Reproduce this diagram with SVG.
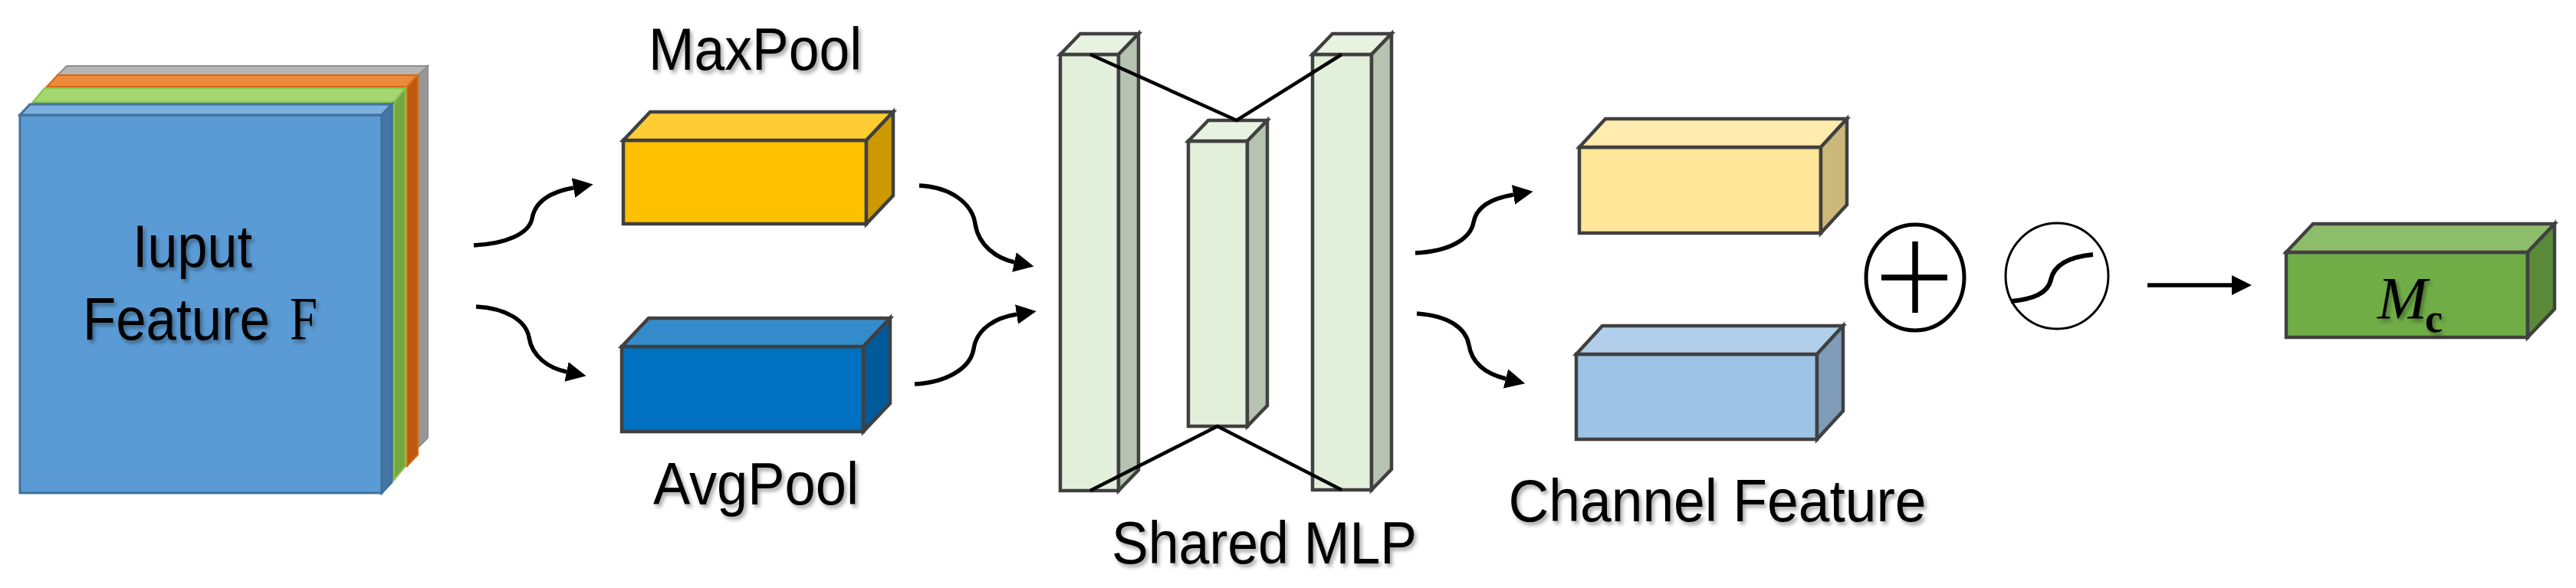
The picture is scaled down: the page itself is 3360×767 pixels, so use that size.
<svg xmlns="http://www.w3.org/2000/svg" width="3360" height="767" viewBox="0 0 3360 767">
<defs>
<style>
.lbl{font-family:"Liberation Sans",Arial,sans-serif;font-size:78px;fill:#000;filter:url(#sh)}
.bx{stroke:#404040;stroke-width:4.5;stroke-linejoin:miter}
.conn{fill:none;stroke:#000;stroke-width:5.5}
.mlpl{fill:none;stroke:#000;stroke-width:4.5}
</style>
<filter id="sh" x="-10%" y="-20%" width="130%" height="150%">
<feDropShadow dx="3" dy="4" stdDeviation="2.5" flood-color="#000" flood-opacity="0.35"/>
</filter>
<marker id="ah" markerUnits="userSpaceOnUse" markerWidth="30" markerHeight="30" refX="0" refY="13" orient="auto">
<path d="M0,0 L26,13 L0,26 Z" fill="#000"/>
</marker>
</defs>
<rect width="3360" height="767" fill="#fff"/>

<g id="input-feature">
<g stroke="#8f8f8f" stroke-width="2">
<rect x="75" y="98" width="471" height="485" fill="#a6a6a6"/>
<path d="M75,98 L87,86 L558,86 L546,98 Z" fill="#b6b6b6"/>
<path d="M546,98 L558,86 L558,571 L546,583 Z" fill="#979797"/>
</g>
<g stroke="#d66a14" stroke-width="2">
<rect x="61" y="113" width="470" height="495" fill="#ed7d31"/>
<path d="M61,113 L75,98 L545,98 L531,113 Z" fill="#ec8a3c"/>
<path d="M531,113 L545,98 L545,593 L531,608 Z" fill="#bd5a0f"/>
</g>
<g stroke="#86c552" stroke-width="2">
<rect x="43" y="133" width="471" height="493" fill="#70ad47"/>
<path d="M43,133 L58,115 L529,115 L514,133 Z" fill="#a6d66f"/>
<path d="M514,133 L529,115 L529,608 L514,626 Z" fill="#76a63e"/>
</g>
<g stroke="#41719c" stroke-width="3">
<rect x="26" y="150" width="472" height="493" fill="#5b9bd5"/>
<path d="M26,150 L39,136 L511,136 L498,150 Z" fill="#7bafdf"/>
<path d="M498,150 L511,136 L511,629 L498,643 Z" fill="#4676a8"/>
</g>
<text class="lbl" x="173" y="348" textLength="156" lengthAdjust="spacingAndGlyphs">Iuput</text>
<text class="lbl" x="108" y="443" textLength="244" lengthAdjust="spacingAndGlyphs">Feature</text>
<text class="lbl" x="378" y="443" textLength="36" lengthAdjust="spacingAndGlyphs" style="font-family:'Liberation Serif','Times New Roman',serif;font-size:80px">F</text>
</g>

<g id="maxpool">
<rect class="bx" x="813" y="183" width="317" height="109" fill="#ffc000"/>
<path class="bx" d="M813,183 L848,146 L1165,146 L1130,183 Z" fill="#ffcd33"/>
<path class="bx" d="M1130,183 L1165,146 L1165,255 L1130,292 Z" fill="#cc9a00"/>
<text class="lbl" x="985" y="91" text-anchor="middle" textLength="278" lengthAdjust="spacingAndGlyphs">MaxPool</text>
</g>

<g id="avgpool">
<rect class="bx" x="811" y="452" width="315" height="111" fill="#0070c0"/>
<path class="bx" d="M811,452 L846,415 L1161,415 L1126,452 Z" fill="#348bcb"/>
<path class="bx" d="M1126,452 L1161,415 L1161,526 L1126,563 Z" fill="#005a9a"/>
<text class="lbl" x="986" y="658" text-anchor="middle" textLength="268" lengthAdjust="spacingAndGlyphs">AvgPool</text>
</g>

<g id="shared-mlp">
<rect class="bx" x="1383" y="71" width="76" height="569" fill="#e2efda"/>
<path class="bx" d="M1383,71 L1409,44 L1485,44 L1459,71 Z" fill="#e7f3e0"/>
<path class="bx" d="M1459,71 L1485,44 L1485,613 L1459,640 Z" fill="#b5c3b0"/>
<rect class="bx" x="1550" y="184" width="77" height="372" fill="#e2efda"/>
<path class="bx" d="M1550,184 L1576,157 L1653,157 L1627,184 Z" fill="#e7f3e0"/>
<path class="bx" d="M1627,184 L1653,157 L1653,529 L1627,556 Z" fill="#b5c3b0"/>
<rect class="bx" x="1712" y="71" width="77" height="568" fill="#e2efda"/>
<path class="bx" d="M1712,71 L1738,44 L1815,44 L1789,71 Z" fill="#e7f3e0"/>
<path class="bx" d="M1789,71 L1815,44 L1815,612 L1789,639 Z" fill="#b5c3b0"/>
<path class="mlpl" d="M1422,71 L1613,157 L1750,71"/>
<path class="mlpl" d="M1422,640 L1588,556 L1750,639"/>
<text class="lbl" x="1649" y="735" text-anchor="middle" textLength="398" lengthAdjust="spacingAndGlyphs">Shared MLP</text>
</g>

<g id="channel-feature">
<rect class="bx" x="2060" y="192" width="315" height="112" fill="#ffe699"/>
<path class="bx" d="M2060,192 L2094,155 L2409,155 L2375,192 Z" fill="#ffebad"/>
<path class="bx" d="M2375,192 L2409,155 L2409,267 L2375,304 Z" fill="#ccb87a"/>
<rect class="bx" x="2056" y="462" width="314" height="111" fill="#9dc3e6"/>
<path class="bx" d="M2056,462 L2090,425 L2404,425 L2370,462 Z" fill="#b1cfeb"/>
<path class="bx" d="M2370,462 L2404,425 L2404,536 L2370,573 Z" fill="#7e9cb8"/>
<text class="lbl" x="2240" y="680" text-anchor="middle" textLength="545" lengthAdjust="spacingAndGlyphs">Channel Feature</text>
</g>

<g id="add">
<ellipse cx="2498" cy="362" rx="64" ry="69" fill="#fff" stroke="#000" stroke-width="5"/>
<path d="M2454,362 L2540,362 M2498,315 L2498,408" stroke="#000" stroke-width="7.5" fill="none"/>
</g>

<g id="sigmoid">
<ellipse cx="2683" cy="360" rx="67" ry="69" fill="#fff" stroke="#000" stroke-width="3"/>
<path d="M2623,393 C2652,390 2671,383 2675,365 C2679,345 2700,335 2730,332" fill="none" stroke="#000" stroke-width="6"/>
</g>

<g id="mc">
<rect class="bx" x="2982" y="329" width="315" height="111" fill="#70ad47"/>
<path class="bx" d="M2982,329 L3017,292 L3332,292 L3297,329 Z" fill="#8dbd6b"/>
<path class="bx" d="M3297,329 L3332,292 L3332,403 L3297,440 Z" fill="#5a8a38"/>
<text x="3101" y="415" style="font-family:'Liberation Serif','Times New Roman',serif;font-style:italic;font-size:78px;filter:url(#sh)">M</text>
<text x="3163" y="433" style="font-family:'Liberation Serif','Times New Roman',serif;font-weight:bold;font-size:52px;filter:url(#sh)">c</text>
</g>

<g id="connectors">
<path class="conn" marker-end="url(#ah)" d="M618,320 C660,318 690,305 694,285 C698,262 720,250 748,245"/>
<path class="conn" marker-end="url(#ah)" d="M621,400 C660,402 686,418 690,440 C694,465 715,480 739,485"/>
<path class="conn" marker-end="url(#ah)" d="M1199,242 C1240,244 1268,265 1272,292 C1276,320 1300,337 1323,342"/>
<path class="conn" marker-end="url(#ah)" d="M1193,501 C1235,499 1266,480 1270,455 C1274,428 1300,414 1326,410"/>
<path class="conn" marker-end="url(#ah)" d="M1846,330 C1890,328 1918,312 1922,290 C1926,268 1950,258 1974,254"/>
<path class="conn" marker-end="url(#ah)" d="M1848,409 C1890,412 1912,428 1916,450 C1920,475 1940,488 1964,494"/>
<path class="conn" marker-end="url(#ah)" d="M2801,372 L2911,372"/>
</g>
</svg>
